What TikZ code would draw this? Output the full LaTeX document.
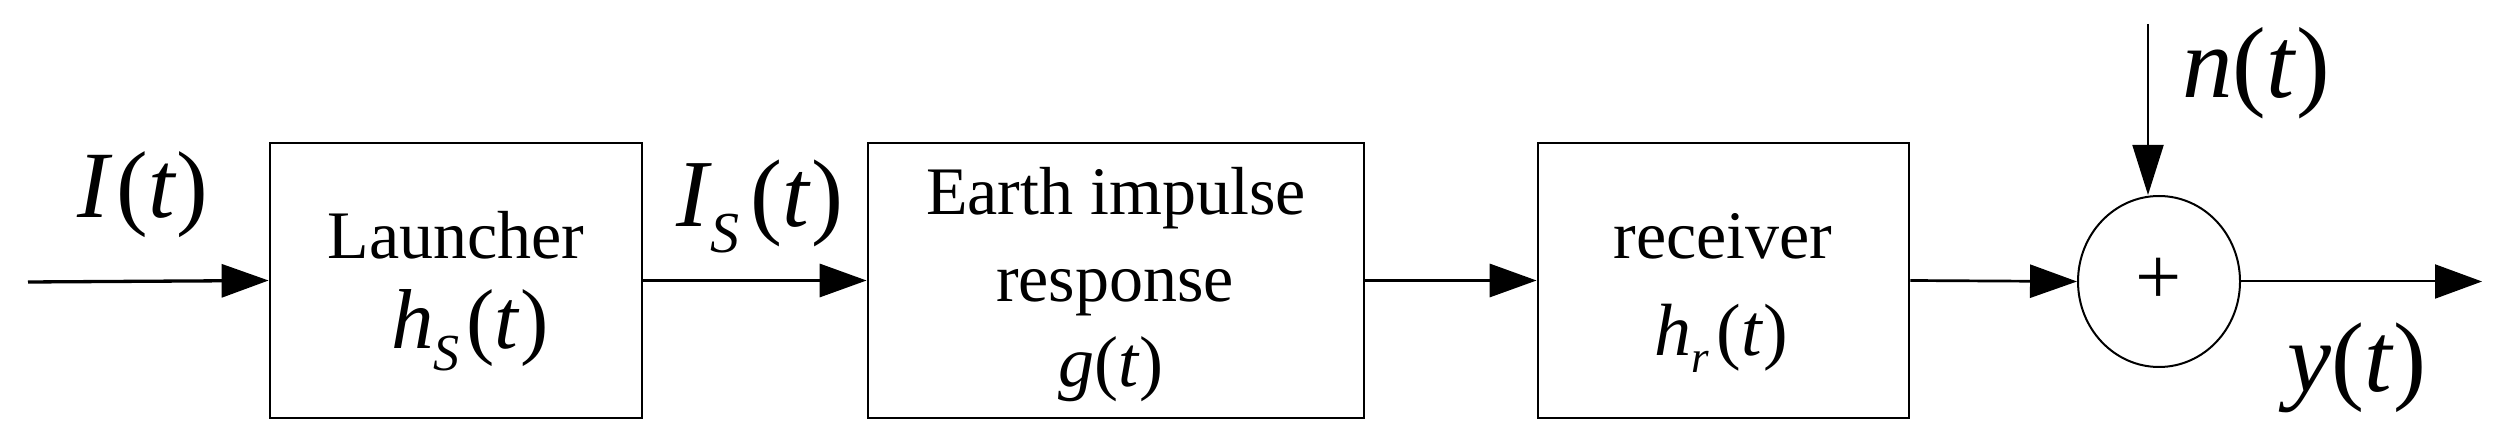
\documentclass[tikz,border=0pt]{standalone}
\usepackage{fontspec}
\setmainfont{Liberation Serif}
\usetikzlibrary{arrows.meta,shapes.geometric}
\newcommand{\fs}[1]{\fontsize{#1}{#1}\selectfont}
\begin{document}
\begin{tikzpicture}[x=1pt,y=1pt,
  blk/.style={draw,line width=2.8pt,inner sep=0pt,minimum height=275pt},
  txt/.style={inner sep=0pt,outer sep=0pt,anchor=base},
  sig/.style={line width=3.3pt,-{Triangle[length=47pt,width=33pt]}},
  thin/.style={line width=2pt,-{Triangle[length=47pt,width=34pt]}}]
\useasboundingbox (0,0) rectangle (2499,441);
% blocks
\node[blk,minimum width=372pt] (b1) at (456,160.5) {};
\node[blk,minimum width=496pt] (b2) at (1116,160.5) {};
\node[blk,minimum width=371pt] (b3) at (1723.5,160.5) {};
\node[draw,ellipse,line width=2pt,inner sep=0pt,minimum width=162pt,minimum height=171pt] (sum) at (2159,159.5) {\fs{82}+};
% texts in blocks
\node[txt] (t1a) at (456,182) {\fs{68}Launcher};
\node[txt] (t1b) at (470,92) {\fs{85}\textit{h}\raisebox{-22pt}{\fs{52}\textit{S}}\kern0.08em(\textit{t})};
\node[txt] (t2a) at (1116,226) {\fs{68}Earth impulse};
\node[txt] (t2b) at (1115,139) {\fs{68}response};
\node[txt] (t2c) at (1111,54) {\fs{72}\textit{g}(\textit{t})};
\node[txt] (t3a) at (1723,182) {\fs{68}receiver};
\node[txt] (t3b) at (1721,85) {\fs{74}\textit{h}\raisebox{-17pt}{\fs{45}\textit{r}}\kern0.1em(\textit{t})};
% signal labels
\node[txt] (lI) at (143,223) {\fs{95}\textit{I}\kern0.04em(\textit{t})};
\node[txt] (lIS) at (760,214) {\fs{96}\textit{I}\kern-0.02em\raisebox{-26pt}{\fs{58}\textit{S}}\kern0.12em(\textit{t})};
\node[txt] (ln) at (2256,343) {\fs{101}\textit{n}(\textit{t})};
\node[txt] (ly) at (2357,49) {\fs{99}\textit{y}(\textit{t})};
% connectors
\coordinate (in) at (28,159);
\coordinate (ntop) at (2148,417);
\coordinate (out) at (2482,159.5);
\draw[sig] (in) -- (b1.west);
\draw[sig] (b1.east) -- (b2.west);
\draw[sig] (b2.east) -- (b3.west);
\draw[line width=2.7pt,-{Triangle[length=47pt,width=33pt]}] (b3.east) -- (sum.west);
\draw[line width=2pt,-{Triangle[length=50pt,width=31pt]}] (ntop) -- (ntop |- sum.north);
\draw[thin] (sum.east) -- (out);
\end{tikzpicture}
\end{document}
